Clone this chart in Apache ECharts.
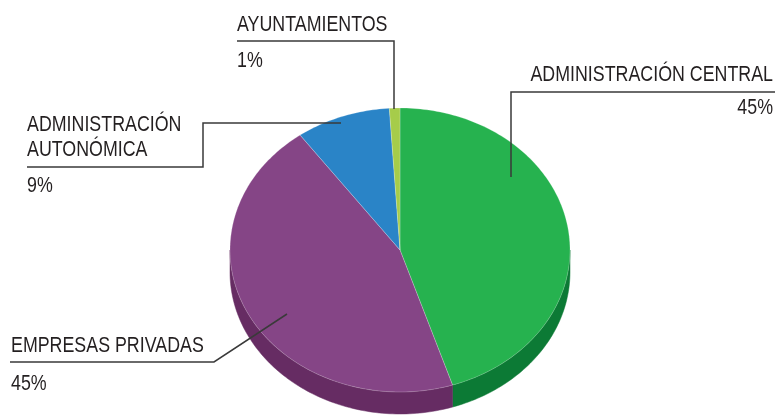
<!DOCTYPE html>
<html>
<head>
<meta charset="utf-8">
<script src="https://cdn.jsdelivr.net/npm/echarts@6/dist/echarts.min.js"></script>
<style>
  html, body { margin: 0; padding: 0; background: #fff; }
  #main { width: 778px; height: 416px; }
</style>
</head>
<body>
<div id="main"></div>
<script>
// datos
var categorias = ['ADMINISTRACIÓN CENTRAL', 'EMPRESAS PRIVADAS', 'ADMINISTRACIÓN\nAUTONÓMICA', 'AYUNTAMIENTOS'];
var valores = [45, 45, 9, 1];
var etiquetasPct = ['45%', '45%', '9%', '1%'];
var colores = ['#26b24f', '#854586', '#2a84c7', '#a6cc4a'];
var coloresLado = ['#0c7a35', '#662c63', '#1d5f92', '#7c9a33'];

var chart = echarts.init(document.getElementById('main'));

// no hay fuente condensada instalada: se estrecha con scaleX
var FONT = "'Liberation Sans', Arial, sans-serif";
var ESTRECHO = 0.81;
var CX = 400, CY = 250, RX = 170, RY = 142, DEPTH = 22;

var total = valores.reduce(function (a, b) { return a + b; }, 0);
var angulos = [];
var acc = -Math.PI / 2;
valores.forEach(function (v) {
  var a0 = acc;
  acc += v / total * Math.PI * 2;
  angulos.push([a0, acc]);
});

function pt(t, dy) {
  return [CX + RX * Math.cos(t), CY + RY * Math.sin(t) + (dy || 0)];
}

function arco(t0, t1, dy) {
  var pts = [];
  var n = Math.max(2, Math.ceil((t1 - t0) / 0.02));
  for (var i = 0; i <= n; i++) pts.push(pt(t0 + (t1 - t0) * i / n, dy));
  return pts;
}

// lado (profundidad)
function renderLado(params, api) {
  var i = params.dataIndex;
  var a = angulos[i];
  // parte frontal: t en [0, PI]
  var t0 = Math.max(a[0], 0), t1 = Math.min(a[1], Math.PI);
  if (t1 <= t0) return null;
  var top = arco(t0, t1, 0);
  var bot = arco(t0, t1, DEPTH).reverse();
  return {
    type: 'polygon',
    shape: { points: top.concat(bot) },
    style: { fill: coloresLado[i], stroke: coloresLado[i], lineWidth: 0.5 }
  };
}

// cara superior
function renderTapa(params, api) {
  var i = params.dataIndex;
  var a = angulos[i];
  var pts = [[CX, CY]].concat(arco(a[0], a[1], 0));
  return {
    type: 'polygon',
    shape: { points: pts },
    style: { fill: colores[i], stroke: 'rgba(255,255,255,0.35)', lineWidth: 0.6 }
  };
}

// posiciones de etiquetas
var etiquetas = [
  { x: 773, y: 75, align: 'right', py: 108, line: [[775, 92], [511, 92], [511, 177]] },
  { x: 11, y: 346, align: 'left', py: 384, line: [[10, 362], [214, 362], [287, 314]] },
  { x: 27, y: 125, align: 'left', py: 186, line: [[27, 167], [203, 167], [203, 123], [341, 123]] },
  { x: 237, y: 25, align: 'left', py: 61, line: [[237, 41], [394, 41], [394, 109]] }
];

function texto(x, y, t, align, valign) {
  return {
    type: 'text',
    z: 100,
    x: x,
    y: y,
    scaleX: ESTRECHO,
    style: {
      x: 0, y: 0, text: t, fill: '#231f20',
      font: '22px ' + FONT, textAlign: align, textVerticalAlign: valign,
      lineHeight: 25
    }
  };
}

var graficos = [];
etiquetas.forEach(function (e, i) {
  graficos.push({
    type: 'polyline',
    z: 100,
    shape: { points: e.line },
    style: { stroke: '#3a3a3a', lineWidth: 1.5, fill: null }
  });
  if (categorias[i].indexOf('\n') >= 0) {
    graficos.push(texto(e.x, e.y - 12.5, categorias[i], e.align, 'top'));
  } else {
    graficos.push(texto(e.x, e.y, categorias[i], e.align, 'middle'));
  }
  graficos.push(texto(e.x, e.py, etiquetasPct[i], e.align, 'middle'));
});

var option = {
  animation: false,
  graphic: graficos,
  series: [
    {
      type: 'custom',
      coordinateSystem: 'none',
      renderItem: renderLado,
      data: valores,
      z: 1
    },
    {
      type: 'custom',
      coordinateSystem: 'none',
      renderItem: renderTapa,
      data: valores,
      z: 2
    }
  ]
};

chart.setOption(option);
</script>
</body>
</html>
